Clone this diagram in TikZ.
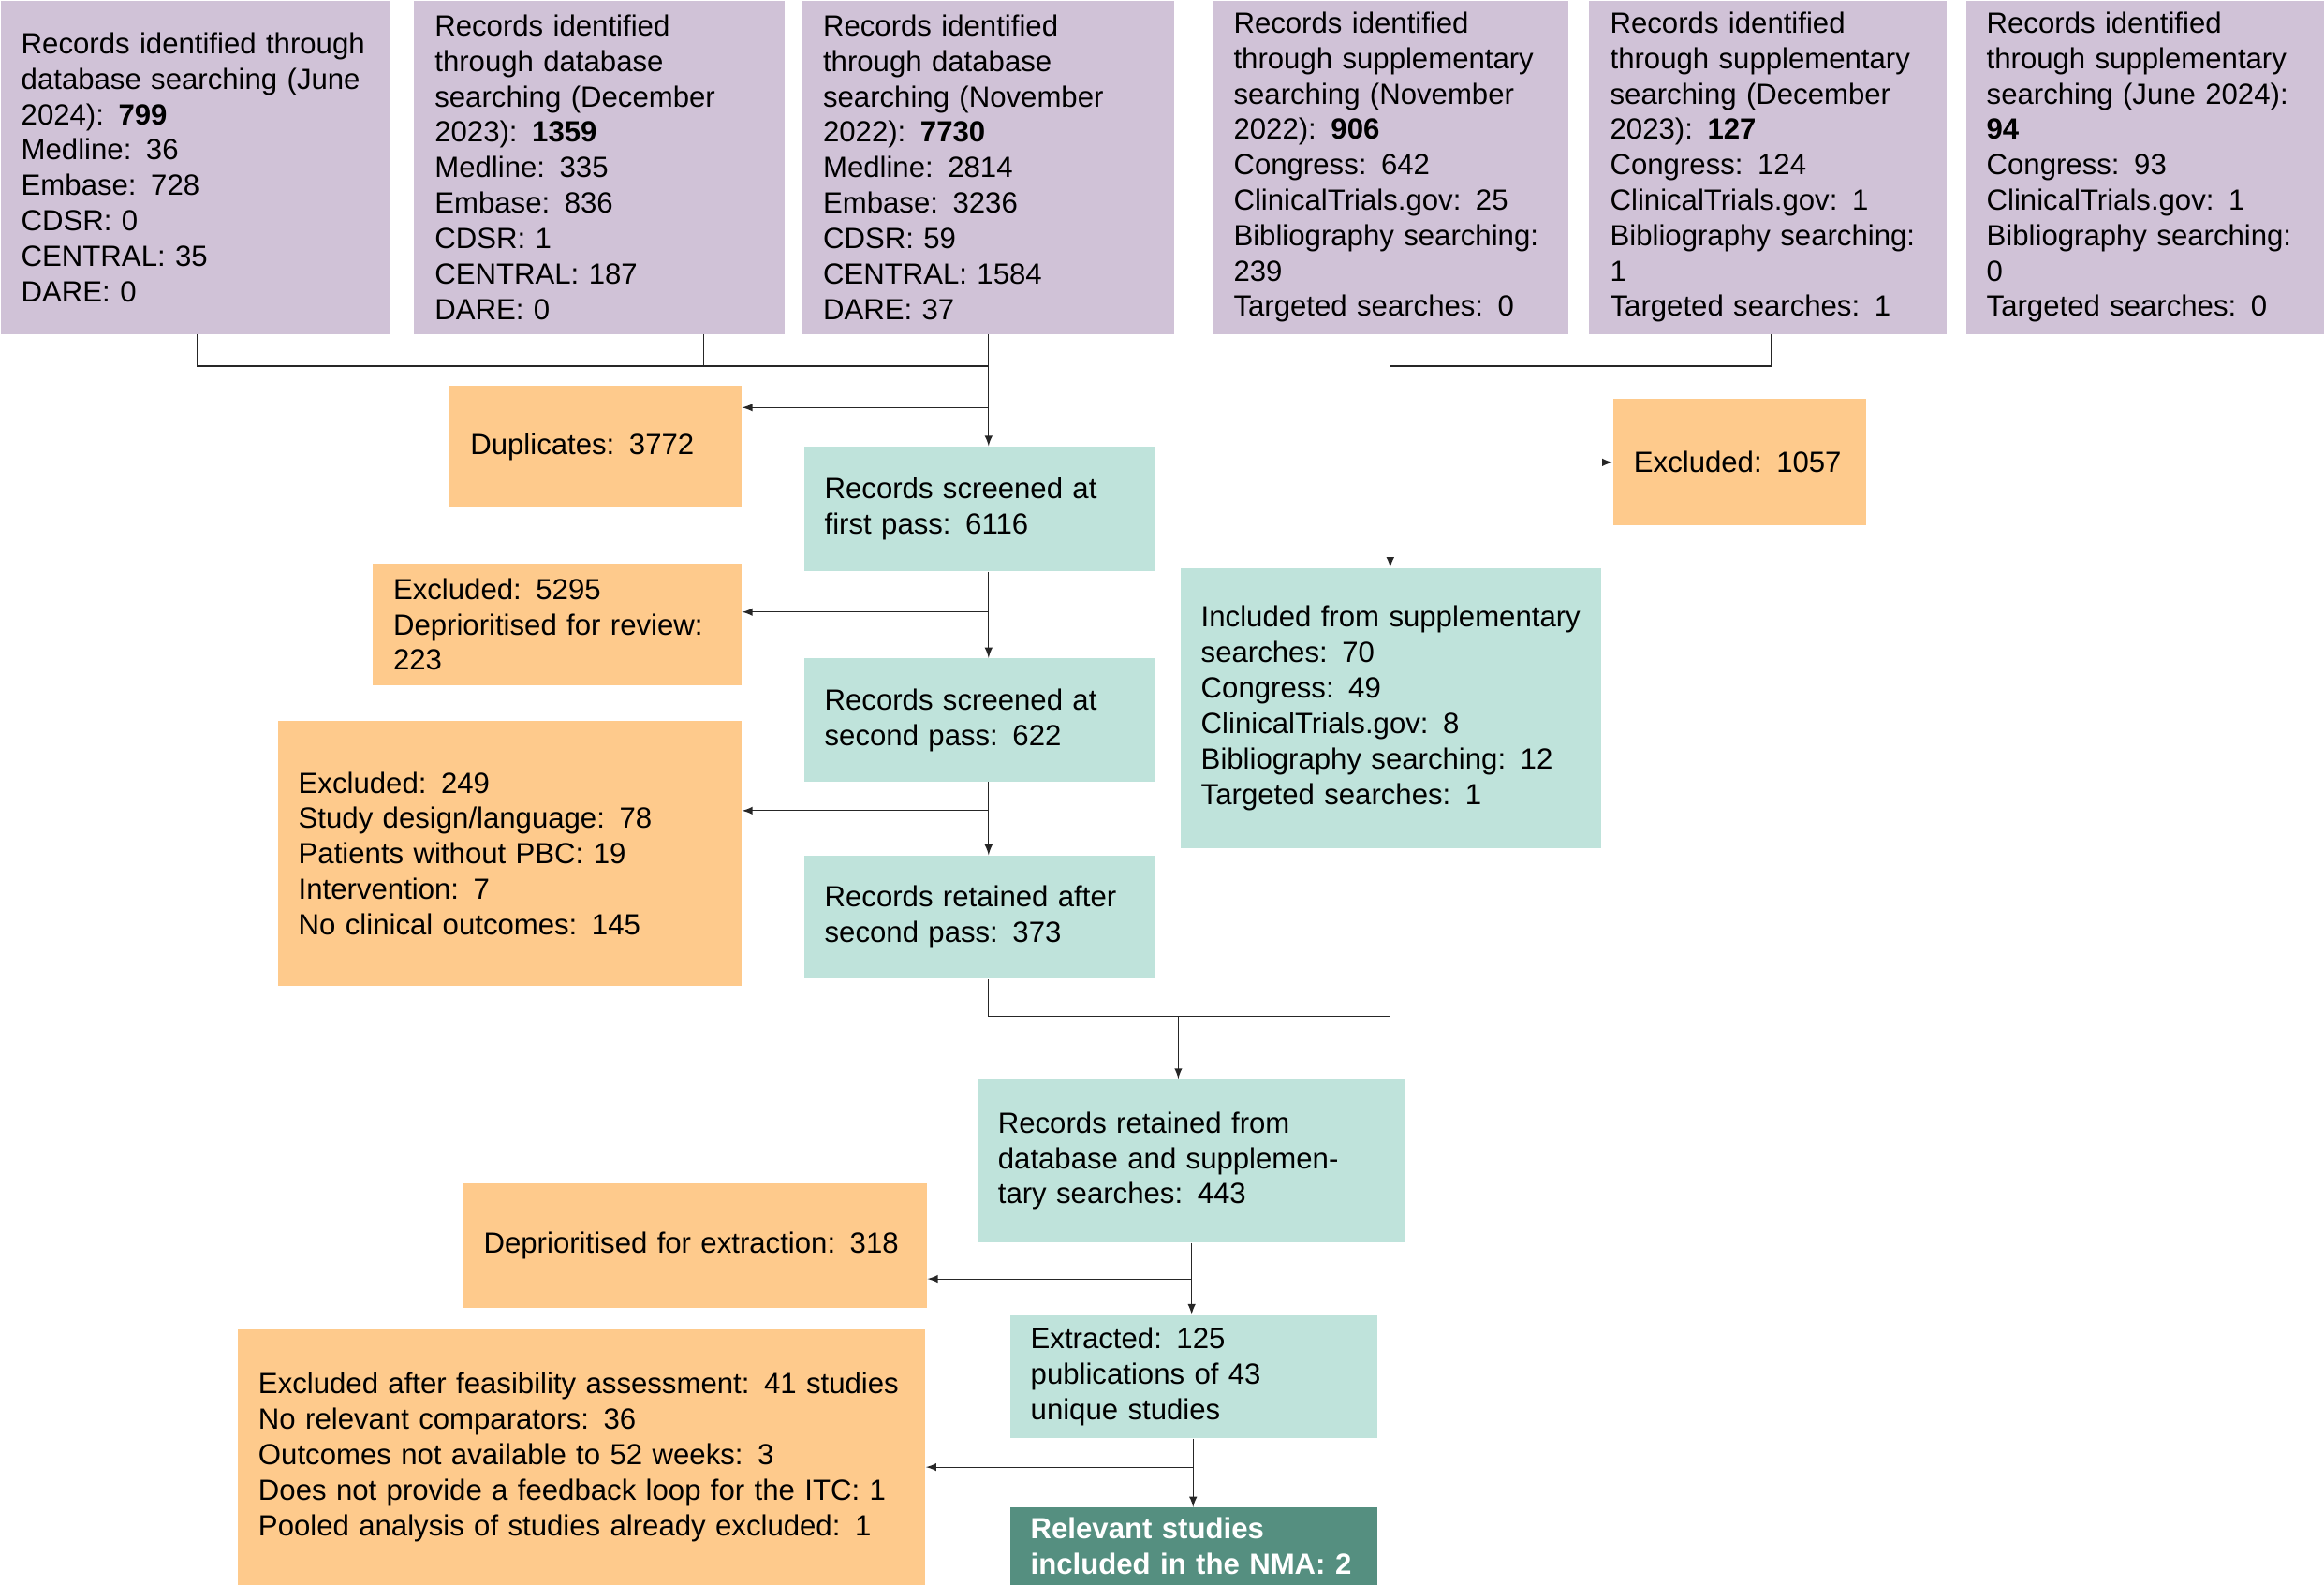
\documentclass[tikz,border=0pt]{standalone}
\usepackage{fontspec}
\setmainfont{Liberation Sans}
\definecolor{purp}{HTML}{D0C2D7}
\definecolor{oran}{HTML}{FECA8C}
\definecolor{teal}{HTML}{BFE3DB}
\definecolor{dteal}{HTML}{558F80}
\tikzset{
  box/.style={anchor=north west, inner xsep=7.9pt, inner ysep=0pt, align=left,
    font=\fontsize{11.2pt}{13.6pt}\selectfont},
  arr/.style={-latex, thin, black!85},
  ln/.style={thin, black!85}
}
% box: name, x1, y1, x2, y2, colour, text
\newcommand{\bx}[7]{%
  \pgfmathsetmacro{\bw}{(#4-#2)*0.02}%
  \pgfmathsetmacro{\bh}{(#5-#3)*0.02}%
  \pgfmathsetmacro{\tw}{(#4-#2)*0.02-0.56}%
  \node[box, fill=#6, minimum width=\bw cm, minimum height=\bh cm, text width=\tw cm] (#1) at (#2,#3) {#7};}
\begin{document}
\begin{tikzpicture}[x=0.02cm, y=-0.02cm]
    \useasboundingbox (0,0) rectangle (1568,1069);
    % top row
    \bx{dbA}{0}{0}{263}{225}{purp}{Records identified through database searching (June 2024): \textbf{799}\\Medline: 36\\Embase: 728\\CDSR: 0\\CENTRAL: 35\\DARE: 0\\[13pt]}
    \bx{dbB}{279}{0}{529}{225}{purp}{Records identified through database searching (December 2023): \textbf{1359}\\Medline: 335\\Embase: 836\\CDSR: 1\\CENTRAL: 187\\DARE: 0}
    \bx{dbC}{541}{0}{792}{225}{purp}{Records identified through database searching (November 2022): \textbf{7730}\\Medline: 2814\\Embase: 3236\\CDSR: 59\\CENTRAL: 1584\\DARE: 37}
    \bx{spA}{818}{0}{1058}{225}{purp}{Records identified through supplementary searching (November 2022): \textbf{906}\\Congress: 642\\ClinicalTrials.gov: 25\\Bibliography searching: 239\\Targeted searches: 0}
    \bx{spB}{1072}{0}{1313}{225}{purp}{Records identified through supplementary searching (December 2023): \textbf{127}\\Congress: 124\\ClinicalTrials.gov: 1\\Bibliography searching: 1\\Targeted searches: 1}
    \bx{spC}{1326}{0}{1568}{225}{purp}{Records identified through supplementary searching (June 2024): \textbf{94}\\Congress: 93\\ClinicalTrials.gov: 1\\Bibliography searching: 0\\Targeted searches: 0}
    % database branch
    \bx{dup}{303}{260}{500}{342}{oran}{Duplicates: 3772}
    \bx{scrA}{542}{301}{779}{385}{teal}{Records screened at first pass: 6116}
    \bx{excA}{251}{380}{500}{462}{oran}{Excluded: 5295\\Deprioritised for review: 223}
    \bx{scrB}{542}{444}{779}{527}{teal}{Records screened at second pass: 622}
    \bx{excB}{187}{486}{500}{665}{oran}{Excluded: 249\\Study design/language: 78\\Patients without PBC: 19\\Intervention: 7\\No clinical outcomes: 145}
    \bx{ret}{542}{577}{779}{660}{teal}{Records retained after second pass: 373}
    % supplementary branch
    \bx{excS}{1088}{269}{1259}{354}{oran}{Excluded: 1057}
    \bx{inc}{796}{383}{1080}{572}{teal}{Included from supplementary searches: 70\\Congress: 49\\ClinicalTrials.gov: 8\\Bibliography searching: 12\\Targeted searches: 1}
    % combined
    \bx{comb}{659}{728}{948}{838}{teal}{Records retained from database and supplementary searches: 443}
    \bx{dep}{312}{798}{625}{882}{oran}{Deprioritised for extraction: 318}
    \bx{ext}{681}{887}{929}{970}{teal}{Extracted: 125\\publications of 43\\unique studies}
    \bx{excF}{160}{897}{624}{1069}{oran}{Excluded after feasibility assessment: 41 studies\\No relevant comparators: 36\\Outcomes not available to 52 weeks: 3\\Does not provide a feedback loop for the ITC: 1\\Pooled analysis of studies already excluded: 1}
    \bx{nma}{681}{1017}{929}{1069}{dteal}{\color{white}\bfseries Relevant studies\\\color{white}\bfseries included in the NMA: 2}
    % connectors
    \coordinate (jA) at (667,247);
    \coordinate (jS) at (938,247);
    \coordinate (jR) at (795,686);
    \draw[ln] (dbA.south -| 133,0) |- (jA);
    \draw[ln] (dbB.south -| 475,0) -- (475,247);
    \draw[arr] (dbC.south -| jA) -- (scrA.north -| jA);
    \draw[arr] (667,275) -- (dup.east |- 667,275);
    \draw[arr] (scrA.south -| jA) -- (scrB.north -| jA);
    \draw[arr] (667,413) -- (excA.east |- 667,413);
    \draw[arr] (scrB.south -| jA) -- (ret.north -| jA);
    \draw[arr] (667,547) -- (excB.east |- 667,547);
    \draw[ln] (spB.south -| 1195,0) |- (jS);
    \draw[arr] (spA.south -| jS) -- (inc.north -| jS);
    \draw[arr] (938,312) -- (excS.west |- 938,312);
    \draw[ln] (ret.south -| jA) |- (jR) -| (inc.south -| jS);
    \draw[arr] (jR) -- (comb.north -| jR);
    \draw[arr] (comb.south -| 804,0) -- (ext.north -| 804,0);
    \draw[arr] (804,863) -- (dep.east |- 804,863);
    \draw[arr] (ext.south -| 805,0) -- (nma.north -| 805,0);
    \draw[arr] (805,990) -- (excF.east |- 805,990);
\end{tikzpicture}
\end{document}
